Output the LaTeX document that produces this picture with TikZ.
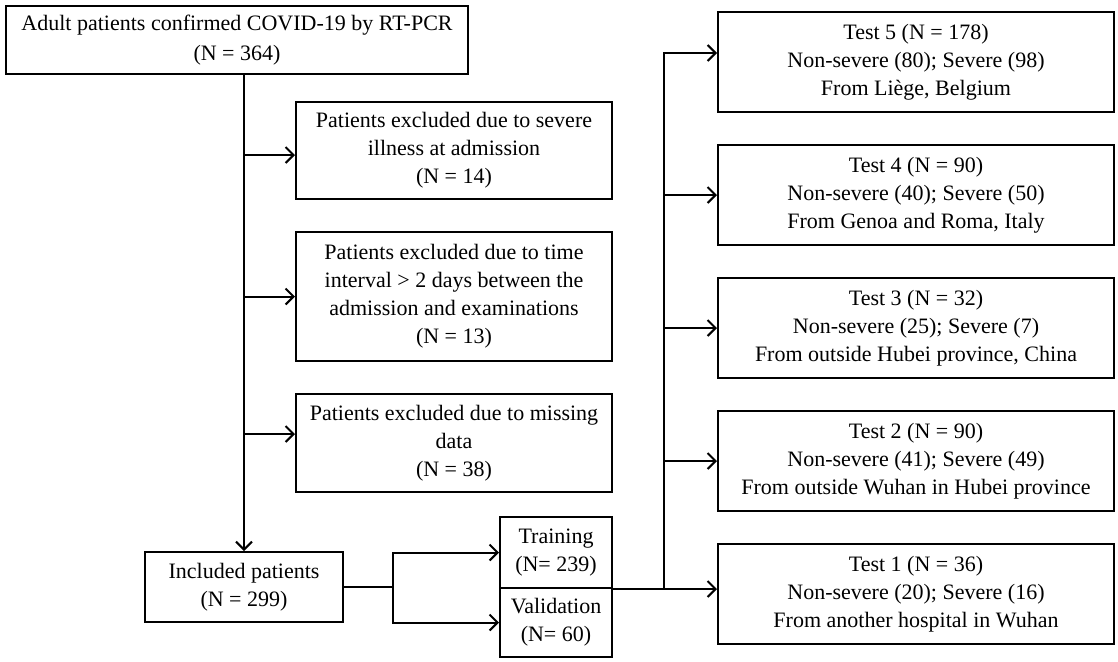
\documentclass[tikz,border=0pt]{standalone}
\usepackage{fontspec}
\setmainfont{Liberation Serif}
\usepackage{tikz}
\usetikzlibrary{arrows.meta, positioning}

\begin{document}
\begin{tikzpicture}[x=0.5pt, y=0.5pt, node distance=15.5pt]
  \tikzset{
    bx/.style={rectangle, draw=black, line width=1pt, fill=white,
               inner sep=2pt, text centered, align=center,
               font=\fontsize{11}{14}\selectfont},
    exbox/.style={bx, minimum width=158pt},
    tbox/.style={bx, minimum width=198pt, minimum height=50pt},
    arr/.style={-{Straight Barb[length=4pt, width=8pt]}, line width=1pt}
  }
  \useasboundingbox (0,0) rectangle (1118,-661);
  % left column
  \node[bx, minimum width=231pt, minimum height=34pt] (top) at (237,-40)
    {Adult patients confirmed COVID-19 by RT-PCR\\[1pt](N = 364)};
  \node[exbox, minimum height=48.5pt] (excl1) at (454,-150.5)
    {Patients excluded due to severe\\illness at admission\\(N = 14)};
  \node[exbox, minimum height=64.5pt, below=of excl1] (excl2)
    {Patients excluded due to time\\interval > 2 days between the\\admission and examinations\\(N = 13)};
  \node[exbox, minimum height=49pt, below=of excl2] (excl3)
    {Patients excluded due to missing\\data\\(N = 38)};
  \node[bx, minimum width=99pt, minimum height=35pt] (incl) at (244,-587)
    {Included patients\\(N = 299)};
  % split
  \node[bx, minimum width=56pt, minimum height=35.5pt] (train) at (556,-552.5)
    {Training\\(N= 239)};
  \node[bx, minimum width=56pt, minimum height=34.5pt, below=-1pt of train] (valid)
    {Validation\\(N= 60)};
  % test sets
  \node[tbox] (test5) at (916,-62)
    {Test 5 (N = 178)\\Non-severe (80); Severe (98)\\From Liège, Belgium};
  \node[tbox, below=of test5] (test4)
    {Test 4 (N = 90)\\Non-severe (40); Severe (50)\\From Genoa and Roma, Italy};
  \node[tbox, below=of test4] (test3)
    {Test 3 (N = 32)\\Non-severe (25); Severe (7)\\From outside Hubei province, China};
  \node[tbox, below=of test3] (test2)
    {Test 2 (N = 90)\\Non-severe (41); Severe (49)\\From outside Wuhan in Hubei province};
  \node[tbox, below=of test2] (test1)
    {Test 1 (N = 36)\\Non-severe (20); Severe (16)\\From another hospital in Wuhan};

  \coordinate (split) at (393,-587);
  \coordinate (fork) at (664,-588);
  \coordinate (in1) at ([yshift=-2.25pt]excl1.west);
  \coordinate (in2) at (excl2.west);
  \coordinate (in3) at ([yshift=4.5pt]excl3.west);
  \coordinate (in5) at ([yshift=4.5pt]test5.west);

  \draw[arr] (top.south -| incl.north) -- (incl.north);
  \foreach \b in {in1, in2, in3}
    \draw[arr] (\b -| incl.north) -- (\b);
  \draw[arr] (incl.east) -- (split) |- (train.west);
  \draw[arr] (split) |- (valid.west);
  \draw[arr] (train.south east) -- (train.south east -| test1.west);
  \draw[arr] (fork) |- (in5);
  \foreach \b in {test4, test3, test2}
    \draw[arr] (fork |- \b.west) -- (\b.west);
\end{tikzpicture}
\end{document}
